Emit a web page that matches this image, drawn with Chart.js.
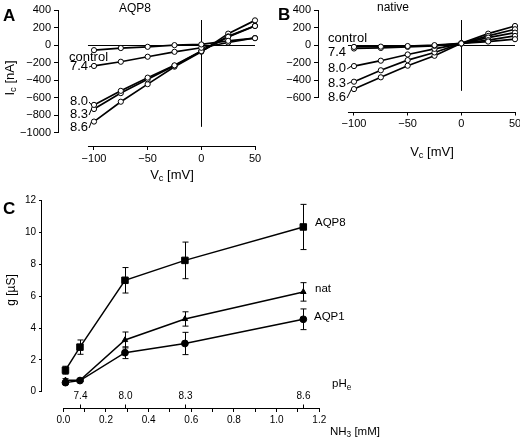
<!DOCTYPE html>
<html>
<head>
<meta charset="utf-8">
<script src="https://cdn.jsdelivr.net/npm/chart.js@4"></script>
<style>
  body { margin: 0; background: #fff; width: 520px; height: 439px; position: relative; overflow: hidden; }
  canvas { position: absolute; }
</style>
</head>
<body>
<canvas id="chartA" width="262" height="195" style="left:0;top:0"></canvas>
<canvas id="chartB" width="260" height="195" style="left:260px;top:0"></canvas>
<canvas id="chartC" width="520" height="249" style="left:0;top:190px"></canvas>
<script>
// clamp voltage (mV) for panels A and B
const voltages = [-100, -75, -50, -25, 0, 25, 50];
const seriesNames = ['control', '7.4', '8.0', '8.3', '8.6'];

// panel A: AQP8 oocytes, current in nA
const aqp8Control = [-57, -33, -19, 0, 8, 49, 79];
const aqp8Ph74 = [-237, -189, -132, -76, -30, 30, 82];
const aqp8Ph80 = [-680, -520, -370, -230, -68, 94, 218];
const aqp8Ph83 = [-727, -546, -388, -235, -70, 100, 220];
const aqp8Ph86 = [-870, -644, -444, -245, -75, 131, 282];

// panel B: native oocytes
const nativeControl = [-20, -17, -10, 0, 20, 41, 68];
const nativePh74 = [-38, -32, -20, -8, 20, 57, 105];
const nativePh80 = [-238, -177, -106, -42, 18, 86, 142];
const nativePh83 = [-416, -286, -170, -83, 20, 105, 181];
const nativePh86 = [-500, -366, -234, -121, 22, 131, 218];

const currentTicksA = [400, 200, 0, -200, -400, -600, -800, -1000];
const currentTicksB = [400, 200, 0, -200, -400, -600];
const voltageTicks = [-100, -50, 0, 50];

// panel C: conductance vs NH3 (pHe on the second axis)
const nh3 = [0.01, 0.078, 0.289, 0.57, 1.125];
const pheLabels = ['', '7.4', '8.0', '8.3', '8.6'];
const gAqp8 = [1.35, 2.8, 7.0, 8.25, 10.35];
const gAqp8Err = [0.25, 0.45, 0.8, 1.15, 1.42];
const gNat = [0.72, 0.72, 3.25, 4.57, 6.27];
const gNatErr = [0.1, 0.05, 0.5, 0.45, 0.58];
const gAqp1 = [0.57, 0.7, 2.45, 3.03, 4.55];
const gAqp1Err = [0.08, 0.05, 0.37, 0.7, 0.65];
const gTicks = [0, 2, 4, 6, 8, 10, 12];
const nh3Ticks = [0, 0.1, 0.2, 0.3, 0.4, 0.5, 0.6, 0.7, 0.8, 0.9, 1.0, 1.1, 1.2];

const sans = '"Liberation Sans", Arial, Helvetica, sans-serif';
const minus = v => String(v).replace('-', '\u2212');

function seg(ctx, x1, y1, x2, y2) {
  ctx.beginPath(); ctx.moveTo(x1, y1); ctx.lineTo(x2, y2); ctx.stroke();
}

// text with subscripts: parts = [[text, isSub], ...]
function rich(ctx, parts, x, y, size, align) {
  let total = 0;
  const widths = parts.map(([t, sub]) => {
    ctx.font = (sub ? size * 0.72 : size) + 'px ' + sans;
    const w = ctx.measureText(t).width;
    total += w;
    return w;
  });
  let cx = align === 'center' ? x - total / 2 : align === 'right' ? x - total : x;
  ctx.textAlign = 'left';
  ctx.textBaseline = 'middle';
  parts.forEach(([t, sub], i) => {
    ctx.font = (sub ? size * 0.72 : size) + 'px ' + sans;
    ctx.fillText(t, cx, sub ? y + size * 0.28 : y);
    cx += widths[i];
  });
}

function letter(ctx, t, x, y) {
  ctx.font = 'bold 17px ' + sans;
  ctx.textAlign = 'left';
  ctx.textBaseline = 'middle';
  ctx.fillText(t, x, y);
}

function ivDeco(o) {
  return {
    id: 'ivDeco',
    beforeDatasetsDraw(chart) {
      const { ctx, chartArea: a, scales: { x, y } } = chart;
      ctx.save();
      ctx.strokeStyle = '#000';
      ctx.lineWidth = 1;
      const x0 = x.getPixelForValue(-105.6), x1 = x.getPixelForValue(50);
      const yb = Math.round(a.bottom) + 0.5;
      seg(ctx, x0, yb, x1 + 0.5, yb);
      const xl = Math.round(a.left) - 0.5;
      seg(ctx, xl, y.getPixelForValue(o.yTicks[0]), xl, y.getPixelForValue(o.yTicks[o.yTicks.length - 1]));
      const yz = Math.round(y.getPixelForValue(0)) + 0.5;
      seg(ctx, x0, yz, x1, yz);
      const xz = Math.round(x.getPixelForValue(0)) + 0.5;
      seg(ctx, xz, y.getPixelForValue(o.vLine[0]), xz, y.getPixelForValue(o.vLine[1]));
      ctx.restore();
    },
    afterDraw(chart) {
      const { ctx, scales: { x, y } } = chart;
      ctx.save();
      ctx.fillStyle = '#000';
      ctx.strokeStyle = '#000';
      letter(ctx, o.letter, o.letterPos[0], o.letterPos[1]);
      rich(ctx, [[o.title, false]], o.titlePos[0], o.titlePos[1], 12, 'center');
      rich(ctx, [['V', false], ['c', true], [' [mV]', false]], 172, o.xTitleY, 13, 'center');
      if (o.yTitle) {
        ctx.save();
        ctx.translate(10, 78);
        ctx.rotate(-Math.PI / 2);
        rich(ctx, [['I', false], ['c', true], [' [nA]', false]], 0, 0, 13, 'center');
        ctx.restore();
      }
      ctx.lineWidth = 1;
      o.labels.forEach((lb, i) => {
        ctx.font = '13px ' + sans;
        ctx.textAlign = 'left';
        ctx.textBaseline = 'middle';
        ctx.fillText(seriesNames[i], lb[0], lb[1]);
        if (lb[2]) {
          const w = ctx.measureText(seriesNames[i]).width;
          const px = x.getPixelForValue(voltages[0]) - 2.5;
          const py = y.getPixelForValue(o.series[i][0]);
          seg(ctx, lb[0] + w + 1, lb[1] + 1, px, py);
        }
      });
      ctx.restore();
    }
  };
}

function ivChart(id, o) {
  const datasets = o.series.map(vals => ({
    data: voltages.map((v, i) => ({ x: v, y: vals[i] })),
    borderColor: '#000',
    borderWidth: 1.7,
    pointRadius: 2.6,
    pointBackgroundColor: '#fff',
    pointBorderColor: '#000',
    pointBorderWidth: 1,
    tension: 0,
    clip: false
  }));
  return new Chart(document.getElementById(id), {
    type: 'line',
    data: { datasets },
    options: {
      responsive: false,
      animation: false,
      events: [],
      layout: { padding: { left: 0, top: 10, right: o.padRight, bottom: 0 } },
      plugins: { legend: { display: false }, tooltip: { enabled: false } },
      scales: {
        x: {
          type: 'linear', min: -132.6, max: 50,
          afterBuildTicks: s => { s.ticks = voltageTicks.map(v => ({ value: v })); },
          afterFit: s => { s.height = o.xHeight; s.paddingLeft = 0; s.paddingRight = 0; },
          ticks: { autoSkip: false, maxRotation: 0, padding: 2, color: '#000', font: { family: sans, size: 11 }, callback: minus },
          grid: { drawOnChartArea: false, tickLength: 4, color: '#000' },
          border: { display: false }
        },
        y: {
          type: 'linear', min: o.yMin, max: 400,
          afterBuildTicks: s => { s.ticks = o.yTicks.map(v => ({ value: v })); },
          afterFit: s => { s.width = 59; s.paddingTop = 0; s.paddingBottom = 0; },
          ticks: { autoSkip: false, padding: 3, color: '#000', font: { family: sans, size: 11 }, callback: minus },
          grid: { drawOnChartArea: false, tickLength: 5, color: '#000' },
          border: { display: false }
        }
      }
    },
    plugins: [ivDeco(o)]
  });
}

ivChart('chartA', {
  series: [aqp8Control, aqp8Ph74, aqp8Ph80, aqp8Ph83, aqp8Ph86],
  yTicks: currentTicksA, yMin: -1148, padRight: 7, xHeight: 49,
  vLine: [286, -930], letter: 'A', letterPos: [3, 16],
  title: 'AQP8', titlePos: [135, 9], xTitleY: 175, yTitle: true,
  labels: [[69, 57, false], [70, 66, true], [70, 101, true], [70, 114, true], [70, 127, true]]
});

ivChart('chartB', {
  series: [nativeControl, nativePh74, nativePh80, nativePh83, nativePh86],
  yTicks: currentTicksB, yMin: -755, padRight: 5, xHeight: 83.5,
  vLine: [286, -520], letter: 'B', letterPos: [18, 15],
  title: 'native', titlePos: [133, 8], xTitleY: 152, yTitle: false,
  labels: [[68, 38, false], [68, 52, false], [68, 68, true], [68, 83, true], [68, 97, true]]
});

// panel C
const cSeries = [
  { name: 'AQP8', vals: gAqp8, err: gAqp8Err, style: 'rect', r: 4.6, label: [315, 33] },
  { name: 'nat', vals: gNat, err: gNatErr, style: 'triangle', r: 3.2, label: [315, 99] },
  { name: 'AQP1', vals: gAqp1, err: gAqp1Err, style: 'circle', r: 3.4, label: [314, 127] }
];

const cDeco = {
  id: 'cDeco',
  beforeDatasetsDraw(chart) {
    const { ctx, chartArea: a, scales: { x, y } } = chart;
    ctx.save();
    ctx.strokeStyle = '#000';
    ctx.lineWidth = 1;
    const xl = Math.round(a.left) - 0.5;
    seg(ctx, xl, y.getPixelForValue(gTicks[gTicks.length - 1]), xl, y.getPixelForValue(0));
    const yb = Math.round(a.bottom) + 0.5;
    seg(ctx, x.getPixelForValue(0), yb, x.getPixelForValue(1.2) + 0.5, yb);
    // pHe ticks pointing up
    ctx.fillStyle = '#000';
    nh3.forEach((v, i) => {
      if (!pheLabels[i]) return;
      const px = Math.round(x.getPixelForValue(v)) + 0.5;
      seg(ctx, px, yb, px, yb - 4);
      ctx.font = '10px ' + sans;
      ctx.textAlign = 'center';
      ctx.textBaseline = 'middle';
      ctx.fillText(pheLabels[i], px, yb - 12.5);
    });
    // error bars
    cSeries.forEach(s => {
      s.vals.forEach((v, i) => {
        const px = Math.round(x.getPixelForValue(nh3[i])) + 0.5;
        const t = y.getPixelForValue(v + s.err[i]), b = y.getPixelForValue(v - s.err[i]);
        seg(ctx, px, t, px, b);
        seg(ctx, px - 3, t, px + 3, t);
        seg(ctx, px - 3, b, px + 3, b);
      });
    });
    ctx.restore();
  },
  afterDraw(chart) {
    const { ctx } = chart;
    ctx.save();
    ctx.fillStyle = '#000';
    letter(ctx, 'C', 3, 19);
    cSeries.forEach(s => rich(ctx, [[s.name, false]], s.label[0], s.label[1], 11.5, 'left'));
    rich(ctx, [['pH', false], ['e', true]], 332, 194, 11.5, 'left');
    rich(ctx, [['NH', false], ['3', true], [' [mM]', false]], 330, 241.5, 11.5, 'left');
    ctx.translate(12, 100);
    ctx.rotate(-Math.PI / 2);
    rich(ctx, [['g [\u00b5S]', false]], 0, 0, 12, 'center');
    ctx.restore();
  }
};

new Chart(document.getElementById('chartC'), {
  type: 'line',
  data: {
    datasets: cSeries.map(s => ({
      data: nh3.map((v, i) => ({ x: v, y: s.vals[i] })),
      borderColor: '#000',
      borderWidth: 1.5,
      pointStyle: s.style,
      pointRadius: s.r,
      pointBackgroundColor: '#000',
      pointBorderColor: '#000',
      pointBorderWidth: 1,
      tension: 0,
      clip: false
    }))
  },
  options: {
    responsive: false,
    animation: false,
    events: [],
    layout: { padding: { left: 0, top: 10.7, right: 200.7, bottom: 0 } },
    plugins: { legend: { display: false }, tooltip: { enabled: false } },
    scales: {
      x: {
        type: 'linear', min: -0.1, max: 1.2,
        afterBuildTicks: s => { s.ticks = nh3Ticks.map(v => ({ value: v })); },
        afterFit: s => { s.height = 31; s.paddingLeft = 0; s.paddingRight = 0; },
        ticks: {
          autoSkip: false, maxRotation: 0, padding: 2, color: '#000', font: { family: sans, size: 10 },
          callback: v => (Math.round(v * 10) % 2 === 0 ? v.toFixed(1) : '')
        },
        grid: { drawOnChartArea: false, tickLength: 4, color: '#000' },
        border: { display: false }
      },
      y: {
        type: 'linear', min: -1.024, max: 12,
        afterBuildTicks: s => { s.ticks = gTicks.map(v => ({ value: v })); },
        afterFit: s => { s.width = 42; s.paddingTop = 0; s.paddingBottom = 0; },
        ticks: { autoSkip: false, padding: 3, color: '#000', font: { family: sans, size: 10 } },
        grid: { drawOnChartArea: false, tickLength: 3, color: '#000' },
        border: { display: false }
      }
    }
  },
  plugins: [cDeco]
});
</script>
</body>
</html>
